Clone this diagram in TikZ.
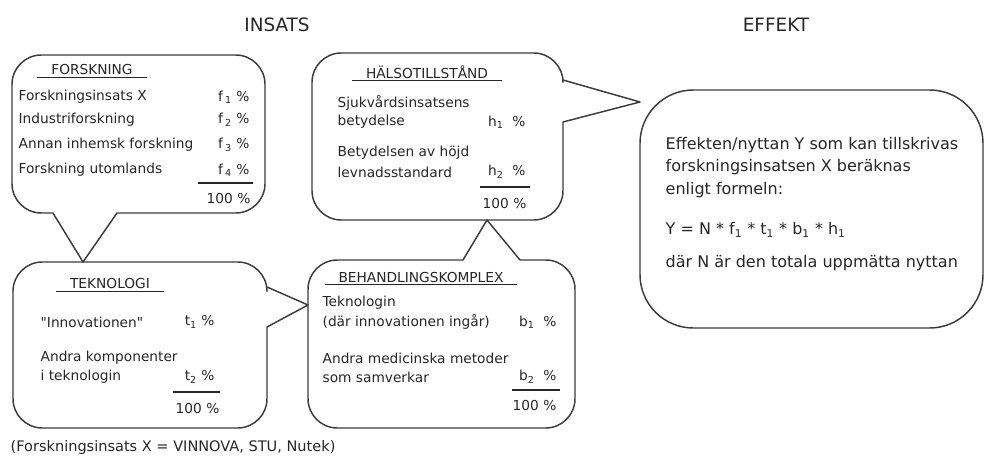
\documentclass[tikz,border=0pt]{standalone}
\usepackage{fontspec}
\setmainfont{DejaVu Sans}
\usepackage{tikz}
\usepackage{xcolor}
\usetikzlibrary{calc, positioning}
\definecolor{ink}{HTML}{262626}

\begin{document}
\begin{tikzpicture}[x=0.75pt, y=-0.75pt, line width=1pt,
    bubble/.style={draw=ink!90, line width=1.1pt, line join=round},
    lbl/.style={anchor=west, inner sep=0pt, text=ink, font=\fontsize{10.3}{12}\selectfont},
    val/.style={anchor=east, inner sep=0pt, text=ink, font=\fontsize{10.3}{12}\selectfont},
    ttl/.style={inner ysep=1pt, inner xsep=10pt, text=ink, font=\fontsize{10.3}{12}\selectfont},
    big/.style={anchor=west, inner sep=0pt, text=ink, font=\fontsize{12}{14}\selectfont},
    head/.style={text=ink, font=\fontsize{13.8}{16}\selectfont}]
            \useasboundingbox (0,0) rectangle (986,460);
            % headings
            \node[head] (insats) at (277,25) {INSATS};
            \node[head] (effekt) at (776,25) {EFFEKT};
            % bubbles
            \draw[bubble] (83,262) -- (53,213) [rounded corners=22] -- (12,213) -- (12,55) -- (265,55) -- (265,213) [sharp corners] -- (117,213) -- cycle;
            \draw[bubble] (308,305) -- (267,327) [rounded corners=22] -- (267,428) -- (13,428) -- (13,262) -- (267,262) [sharp corners] -- (267,287) -- cycle;
            \draw[bubble] (487,220) -- (520,260) [rounded corners=22] -- (575,260) -- (575,428) -- (308,428) -- (308,260) [sharp corners] -- (463,260) -- cycle;
            \draw[bubble] (640,102) -- (563,122) [rounded corners=22] -- (563,220) -- (312,220) -- (312,53) -- (563,53) [sharp corners] -- (563,80) -- cycle;
            \draw[bubble, rounded corners=40] (640,90) rectangle (983,328);

            % FORSKNING
            \node[ttl] (f-ttl) at (92,70) {FORSKNING};
            \draw[ink] (f-ttl.south west) -- (f-ttl.south east);
            \node[lbl] (f-r1) at (18,97) {Forskningsinsats X};
            \node[lbl] (f-r2) at (18,120) {Industriforskning};
            \node[lbl] (f-r3) at (18,145) {Annan inhemsk forskning};
            \node[lbl] (f-r4) at (18,170) {Forskning utomlands};
            \node[val] (f-v1) at (250,97) {f\,\textsubscript{1} \%};
            \node[val] (f-v2) at (250,120) {f\,\textsubscript{2} \%};
            \node[val] (f-v3) at (250,145) {f\,\textsubscript{3} \%};
            \node[val] (f-v4) at (250,170) {f\,\textsubscript{4} \%};
            \coordinate (f-s1) at (198,183);
            \coordinate (f-s2) at (253,183);
            \draw[ink] (f-s1) -- (f-s2);
            \node[val] (f-sum) at (251,198) {100 \%};

            % HÄLSOTILLSTÅND
            \node[ttl] (h-ttl) at (427,72) {HÄLSOTILLSTÅND};
            \draw[ink] (h-ttl.south west) -- (h-ttl.south east);
            \node[lbl] (h-r1) at (337,103) {Sjukvårdsinsatsens};
            \node[lbl] (h-r2) at (337,122) {betydelse};
            \node[lbl] (h-r3) at (337,153) {Betydelsen av höjd};
            \node[lbl] (h-r4) at (337,172) {levnadsstandard};
            \node[val] (h-v1) at (526,122) {h\textsubscript{1}~ \%};
            \node[val] (h-v2) at (526,172) {h\textsubscript{2} ~\%};
            \coordinate (h-s1) at (480,187);
            \coordinate (h-s2) at (530,187);
            \draw[ink] (h-s1) -- (h-s2);
            \node[val] (h-sum) at (527,203) {100 \%};

            % TEKNOLOGI
            \node[ttl] (t-ttl) at (110,284) {TEKNOLOGI};
            \draw[ink] (t-ttl.south west) -- (t-ttl.south east);
            \node[lbl] (t-r1) at (40,322) {\textquotedbl Innovationen\textquotedbl};
            \node[lbl] (t-r2) at (40,358) {Andra komponenter};
            \node[lbl] (t-r3) at (40,377) {i teknologin};
            \node[val] (t-v1) at (215,322) {t\textsubscript{1} \%};
            \node[val] (t-v2) at (215,377) {t\textsubscript{2} \%};
            \coordinate (t-s1) at (173,392);
            \coordinate (t-s2) at (220,392);
            \draw[ink] (t-s1) -- (t-s2);
            \node[val] (t-sum) at (220,408) {100 \%};

            % BEHANDLINGSKOMPLEX
            \node[ttl] (b-ttl) at (421,277) {BEHANDLINGSKOMPLEX};
            \draw[ink] (b-ttl.south west) -- (b-ttl.south east);
            \node[lbl] (b-r1) at (322,303) {Teknologin};
            \node[lbl] (b-r2) at (322,322) {(där innovationen ingår)};
            \node[lbl] (b-r3) at (322,358) {Andra medicinska metoder};
            \node[lbl] (b-r4) at (322,377) {som samverkar};
            \node[val] (b-v1) at (557,322) {b\textsubscript{1} ~\%};
            \node[val] (b-v2) at (557,377) {b\textsubscript{2} ~\%};
            \coordinate (b-s1) at (512,390);
            \coordinate (b-s2) at (560,390);
            \draw[ink] (b-s1) -- (b-s2);
            \node[val] (b-sum) at (557,405) {100 \%};

            % EFFEKT
            \node[big] (e-r1) at (665,145) {Effekten/nyttan Y som kan tillskrivas};
            \node[big] (e-r2) at (665,167) {forskningsinsatsen X beräknas};
            \node[big] (e-r3) at (665,190) {enligt formeln:};
            \node[big] (e-r4) at (665,230) {Y = N * f\textsubscript{1} * t\textsubscript{1} * b\textsubscript{1} * h\textsubscript{1}};
            \node[big] (e-r5) at (665,263) {där N är den totala uppmätta nyttan};

            \node[lbl, font=\fontsize{10.9}{13}\selectfont] (note) at (10,447) {(Forskningsinsats X = VINNOVA, STU, Nutek)};
        \end{tikzpicture}
\end{document}
